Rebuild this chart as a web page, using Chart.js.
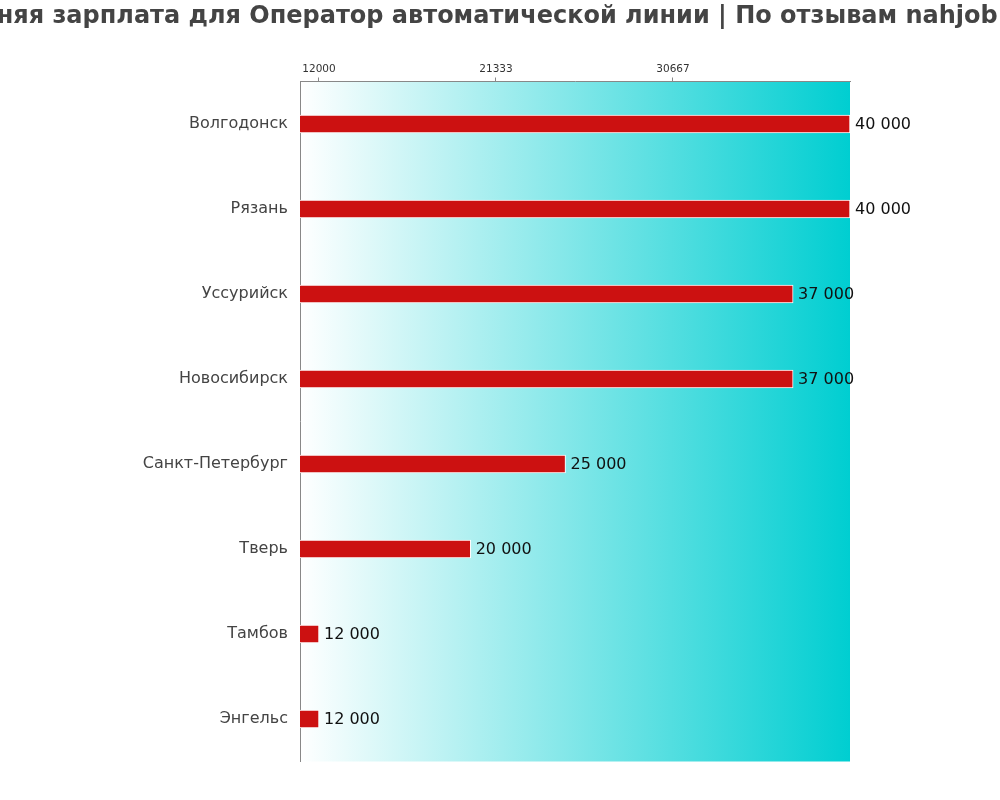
<!DOCTYPE html>
<html>
<head>
<meta charset="utf-8">
<script src="https://cdn.jsdelivr.net/npm/chart.js@4"></script>
<style>
  html, body { margin: 0; padding: 0; background: #fff; }
  #wrap { width: 1000px; height: 800px; }
</style>
</head>
<body>
<div id="wrap"><canvas id="myChart" width="1000" height="800"></canvas></div>
<script>
// данные графика
var cities = ['Волгодонск', 'Рязань', 'Уссурийск', 'Новосибирск', 'Санкт-Петербург', 'Тверь', 'Тамбов', 'Энгельс'];
var salaries = [40000, 40000, 37000, 37000, 25000, 20000, 12000, 12000];
var tickValues = [12000, 21333, 30667];
var titleText = 'Средняя зарплата для Оператор автоматической линии | По отзывам nahjob.ru';

function fmt(v) {
    return String(v).replace(/\B(?=(\d{3})+(?!\d))/g, ' ');
}

// фон с градиентом внутри области графика + заголовок (без сжатия по ширине)
const bgGradient = {
    id: 'bgGradient',
    beforeDraw(chart) {
        const a = chart.chartArea;
        const c = chart.ctx;
        const g = c.createLinearGradient(a.left, 0, a.right, 0);
        g.addColorStop(0, '#ffffff');
        g.addColorStop(1, '#00ced1');
        c.save();
        c.fillStyle = g;
        c.fillRect(a.left, a.top, a.right - a.left, a.bottom - a.top);
        c.font = 'bold 24px "DejaVu Sans"';
        c.fillStyle = '#444';
        c.textAlign = 'center';
        c.textBaseline = 'middle';
        c.fillText(titleText, chart.width / 2 - 19, 17);
        c.restore();
    }
};

// подписи значений справа от столбиков
const valueLabels = {
    id: 'valueLabels',
    afterDatasetsDraw(chart) {
        const c = chart.ctx;
        const meta = chart.getDatasetMeta(0);
        c.save();
        c.font = '16px "DejaVu Sans"';
        c.fillStyle = '#111';
        c.textAlign = 'left';
        c.textBaseline = 'middle';
        meta.data.forEach((bar, i) => {
            c.fillText(fmt(salaries[i]), bar.x + 5, bar.y + 1);
        });
        c.restore();
    }
};

const ctx = document.getElementById('myChart').getContext('2d');
const myChart = new Chart(ctx, {
    type: 'bar',
    data: {
        labels: cities,
        datasets: [{
            data: salaries,
            backgroundColor: '#cc1111',
            borderColor: '#ffffff',
            borderWidth: 1,
            borderSkipped: 'start',
            barThickness: 18
        }]
    },
    plugins: [bgGradient, valueLabels],
    options: {
        indexAxis: 'y',
        responsive: false,
        animation: false,
        layout: { padding: { left: 0, right: 150, top: 51.5, bottom: 38.5 } },
        plugins: {
            legend: { display: false },
            tooltip: { enabled: false },
            title: { display: false }
        },
        scales: {
            x: {
                position: 'top',
                min: 11000,
                max: 40000,
                afterBuildTicks(scale) {
                    scale.ticks = tickValues.map(v => ({ value: v }));
                },
                afterFit(scale) { scale.height = 30; },
                grid: { drawOnChartArea: false, drawTicks: true, tickLength: 4, color: '#888' },
                border: { display: true, color: '#888' },
                ticks: {
                    color: '#333',
                    font: { family: "'DejaVu Sans'", size: 10.5 },
                    padding: 2,
                    maxRotation: 0,
                    callback: v => String(v)
                }
            },
            y: {
                afterFit(scale) { scale.width = 300; },
                grid: { drawOnChartArea: false, drawTicks: false },
                border: { display: true, color: '#888' },
                ticks: {
                    color: '#444',
                    font: { family: "'DejaVu Sans'", size: 16 },
                    padding: 12
                }
            }
        }
    }
});
</script>
</body>
</html>
